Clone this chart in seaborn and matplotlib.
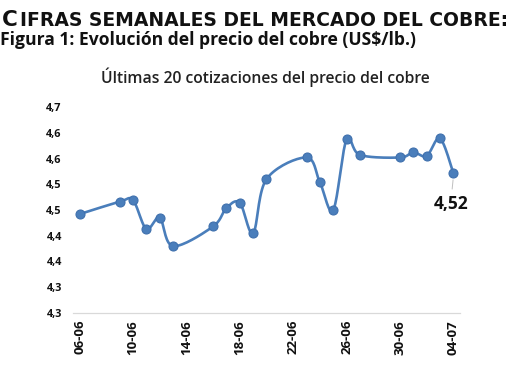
import numpy as np
import pandas as pd
import matplotlib
matplotlib.use("Agg")
import matplotlib.pyplot as plt
import seaborn as sns

# Datos
fechas = ["2025-06-06", "2025-06-09", "2025-06-10", "2025-06-11", "2025-06-12",
          "2025-06-13", "2025-06-16", "2025-06-17", "2025-06-18", "2025-06-19",
          "2025-06-20", "2025-06-23", "2025-06-24", "2025-06-25", "2025-06-26",
          "2025-06-27", "2025-06-30", "2025-07-01", "2025-07-02", "2025-07-03",
          "2025-07-04"]
precios = [4.442, 4.466, 4.469, 4.413, 4.435, 4.380, 4.418, 4.454, 4.464, 4.405,
           4.510, 4.552, 4.504, 4.450, 4.587, 4.557, 4.552, 4.562, 4.555, 4.589,
           4.522]
etiquetas_x = ["06-06", "10-06", "14-06", "18-06", "22-06", "26-06", "30-06", "04-07"]
etiquetas_y = ["4,3", "4,3", "4,4", "4,4", "4,5", "4,5", "4,6", "4,6", "4,7"]
ultimo_valor = "4,52"

AZUL = "#4a7ebb"

df = pd.DataFrame({"fecha": pd.to_datetime(fechas), "precio": precios})
inicio = df["fecha"].iloc[0]
df["dia"] = (df["fecha"] - inicio).dt.days
n_dias = int(df["dia"].iloc[-1])


def suavizar(x, y, pasos=20):
    """Curva suavizada tipo Excel (Catmull-Rom / Bezier)"""
    x = np.asarray(x, float)
    y = np.asarray(y, float)
    px = np.concatenate([[x[0]], x, [x[-1]]])
    py = np.concatenate([[y[0]], y, [y[-1]]])
    xs, ys = [], []
    t = np.linspace(0, 1, pasos)
    for i in range(1, len(px) - 2):
        p0 = np.array([px[i], py[i]])
        p3 = np.array([px[i + 1], py[i + 1]])
        c1 = p0 + (np.array([px[i + 1], py[i + 1]]) - np.array([px[i - 1], py[i - 1]])) / 6
        c2 = p3 - (np.array([px[i + 2], py[i + 2]]) - np.array([px[i], py[i]])) / 6
        b = ((1 - t) ** 3)[:, None] * p0 + (3 * (1 - t) ** 2 * t)[:, None] * c1 \
            + (3 * (1 - t) * t ** 2)[:, None] * c2 + (t ** 3)[:, None] * p3
        xs.extend(b[:, 0])
        ys.extend(b[:, 1])
    return xs, ys


sns.set_theme(style="white")
plt.rcParams["font.family"] = ["Open Sans", "DejaVu Sans"]

fig = plt.figure(figsize=(5.10, 3.73), dpi=100)
ax = fig.add_axes([0.143, 0.161, 0.759, 0.552])

cx, cy = suavizar(df["dia"], df["precio"])
sns.lineplot(x=cx, y=cy, sort=False, estimator=None, color=AZUL, linewidth=1.9, ax=ax)
sns.scatterplot(data=df, x="dia", y="precio", color=AZUL, s=42, edgecolor="#3f70ad",
                linewidth=0.8, zorder=3, ax=ax)

ax.set_xlim(-0.5, n_dias + 0.5)
ax.set_ylim(4.25, 4.65)
ax.set_yticks(np.linspace(4.25, 4.65, len(etiquetas_y)))
ax.set_yticklabels(etiquetas_y, fontsize=7.8, fontweight="bold")
ax.set_xticks(np.arange(0, n_dias + 1, 4))
ax.set_xticklabels(etiquetas_x, rotation=90, fontsize=9.5, fontweight="bold")
ax.set_xticks(np.arange(-0.5, n_dias, 4), minor=True)
ax.tick_params(axis="x", which="major", length=0, pad=5, colors="#111111")
ax.tick_params(axis="x", which="minor", length=4, width=0.8, color="#d9d9d9")
ax.tick_params(axis="y", length=0, pad=8, colors="#111111")
for lado in ["top", "right", "left"]:
    ax.spines[lado].set_visible(False)
ax.spines["bottom"].set_color("#d9d9d9")
ax.spines["bottom"].set_linewidth(0.9)
ax.set_xlabel("")
ax.set_ylabel("")
ax.grid(False)

# Etiqueta del último valor
ux, uy = df["dia"].iloc[-1], df["precio"].iloc[-1]
ax.annotate(ultimo_valor, xy=(ux, uy - 0.008), xytext=(ux - 0.2, uy - 0.078),
            ha="center", va="bottom", fontsize=12.5, fontweight="bold", color="#111111",
            arrowprops=dict(arrowstyle="-", color="#bfbfbf", lw=0.7))

# Títulos
fig.text(0.004, 0.93, "C", fontsize=15.5, fontweight="bold", family="DejaVu Sans",
         va="baseline", color="#111111")
fig.text(0.04, 0.93, "IFRAS SEMANALES DEL MERCADO DEL COBRE:", fontsize=13.5,
         fontweight="bold", family="DejaVu Sans", va="baseline", color="#111111")
fig.text(0.0, 0.88, "Figura 1: Evolución del precio del cobre (US$/lb.)", fontsize=12.6,
         fontweight="bold", va="baseline", color="#111111")
fig.text(0.52, 0.778, "Últimas 20 cotizaciones del precio del cobre", fontsize=11.3,
         fontweight="semibold", ha="center", va="baseline", color="#222222")

fig.savefig("out.png", dpi=100, facecolor="white")
